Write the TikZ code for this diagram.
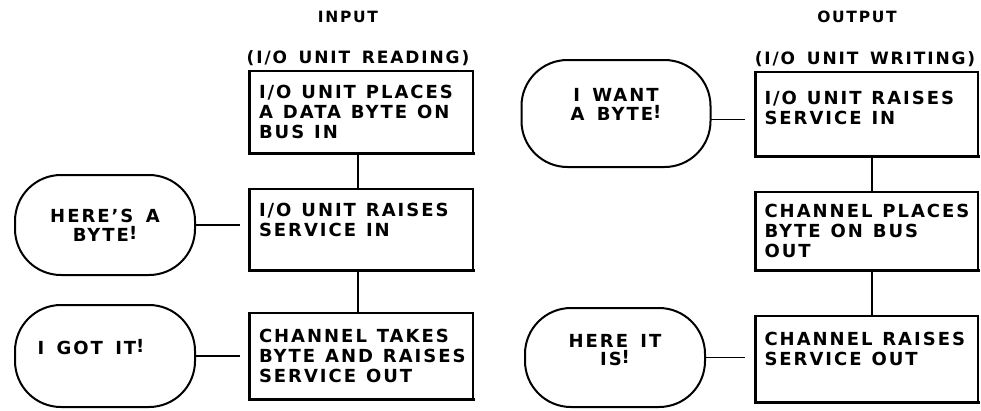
\documentclass[tikz,border=0pt]{standalone}
\usepackage{fontspec}
\setmainfont{DejaVu Sans}[LetterSpace=11, WordSpace=1.5]
\usetikzlibrary{calc}
\newcommand\bxfont{\bfseries\fontsize{18}{20}\selectfont}
\newcommand\ovfont{\bfseries\fontsize{18}{19}\selectfont}
\newcommand\hdfont{\bfseries\fontsize{15.5}{18}\selectfont}
\newcommand\pnfont{\bfseries\fontsize{17}{20}\selectfont}
\newcommand\bang{\raisebox{2pt}{!}}
\begin{document}
\begin{tikzpicture}[x=1pt,y=-1pt,
  box/.style={draw, line width=1.6pt, outer sep=0pt, minimum width=224pt, text width=214pt, align=left, inner sep=0pt, font=\bxfont,
    execute at begin node={\spaceskip=.55em\relax\leftskip=5pt\relax}},
  oval/.style={draw, line width=2pt, outer sep=0pt, rounded corners=46pt, minimum width=180pt, inner sep=0pt, align=center, font=\ovfont},
  heavy/.style={line width=3pt, line cap=rect},
  link/.style={line width=1.5pt},
  head/.style={font=\hdfont, inner sep=0pt},
  sub/.style={font=\pnfont, inner sep=0pt}]
\useasboundingbox (0,0) rectangle (981,410);

% headings
\node[head] (hin) at (348,17) {INPUT};
\node[sub] (rin) at (358,58) {(I/O UNIT READING)};
\node[head] (hout) at (857,17) {OUTPUT};
\node[sub] (rout) at (865,59) {(I/O UNIT WRITING)};

% input column boxes
\node[box, minimum height=82pt] (L1) at (361,112) {I/O UNIT PLACES\\A DATA BYTE ON\\BUS IN};
\node[box, minimum height=81pt] (L2) at (361,229.5) {I/O UNIT RAISES\\SERVICE IN\\\mbox{}};
\node[box, minimum height=86pt] (L3) at (361,356) {CHANNEL TAKES\\BYTE AND RAISES\\SERVICE OUT};

% output column boxes
\node[box, minimum width=223pt, minimum height=84pt] (R1) at (866.5,114) {I/O UNIT RAISES\\SERVICE IN\\[-8pt]\mbox{}};
\node[box, minimum width=223pt, minimum height=78pt] (R2) at (866.5,231) {CHANNEL PLACES\\BYTE ON BUS\\OUT};
\node[box, minimum width=223pt, minimum height=86pt] (R3) at (866.5,359) {CHANNEL RAISES\\SERVICE OUT\\\mbox{}};

% heavy left and bottom edges
\foreach \b in {L1,L2,L3,R1,R2,R3}
  \draw[heavy] (\b.north west) -- (\b.south west) -- (\b.south east);

% ovals
\node[oval, minimum height=100pt] (E1) at (105,225) {HERE'S A\\BYTE\bang};
\node[oval, minimum height=102pt] (E2) at (105,356) {I GOT IT\bang\hspace*{28pt}\\\mbox{}};
\node[oval, minimum width=189pt, minimum height=107pt] (E3) at (616,113.5) {I WANT\\A BYTE\bang\\\mbox{}};
\node[oval, minimum height=99pt] (E4) at (615,357.5) {HERE IT\\[-1pt]IS\bang\\[-3pt]\mbox{}};

% vertical connectors
\draw[link] ([xshift=-3pt]L1.south) -- ([xshift=-3pt]L2.north);
\draw[link] ([xshift=-3pt]L2.south) -- ([xshift=-3pt]L3.north);
\draw[link] ([xshift=5.5pt]R1.south) -- ([xshift=5.5pt]R2.north);
\draw[link] ([xshift=5.5pt]R2.south) -- ([xshift=5.5pt]R3.north);

% horizontal connectors
\draw[link] (E1.east) -- ($(E1.east -| L2.west)+(-9,0)$);
\draw[link] (E2.east) -- ($(E2.east -| L3.west)+(-9,0)$);
\draw[link] ([yshift=-6pt]E3.east) -- ($([yshift=-6pt]E3.east -| R1.west)+(-10,0)$);
\draw[link] (E4.east) -- ($(E4.east -| R3.west)+(-10,0)$);
\end{tikzpicture}
\end{document}
